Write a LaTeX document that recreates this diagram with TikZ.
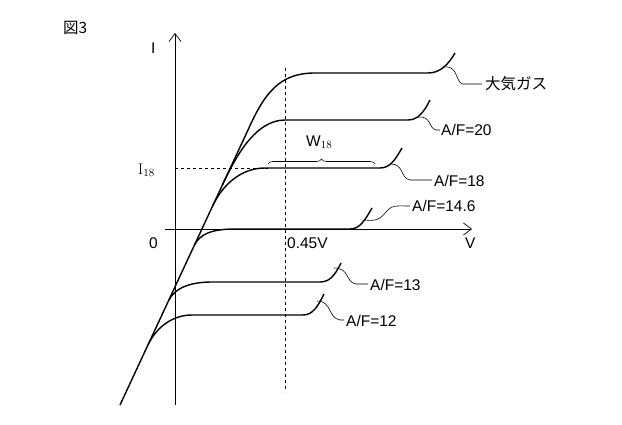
\documentclass[tikz,border=0pt]{standalone}
\usepackage{fontspec}
\setmainfont{Liberation Sans}
\newfontfamily\jp{Noto Sans CJK JP}
\usetikzlibrary{decorations.pathreplacing,arrows.meta}
\tikzstyle{curve} = [line width=1.4pt]
\tikzstyle{lead} = [line width=0.6pt]
\tikzstyle{guide} = [dashed, line width=0.6pt]
\tikzstyle{axis} = [line width=0.7pt, -{Straight Barb[length=8pt,width=12pt]}]
\tikzstyle{lbl} = [font=\fontsize{15.5}{17}\selectfont, anchor=west, inner sep=1pt]
\begin{document}
\begin{tikzpicture}[x=1pt, y=-1pt]
\useasboundingbox (0,0) rectangle (622,425);
% axes
\draw[axis] (175,405) -- (175,33);
\draw[axis] (165,229) -- (472,229);
\draw[guide] (285,68) -- (285,392);
\draw[guide] (175,168) -- (268,168);
% characteristic curves
\draw[curve] (120,405) -- (248,130) .. controls (265,92) and (280,73) .. (315,73) -- (428,73) .. controls (440,73) and (448,65) .. (455,53);
\draw[curve] (222.4,185) .. controls (235,158) and (255,120) .. (285,120) -- (408,120) .. controls (418,120) and (424,112) .. (430,100);
\draw[curve] (212.6,206) .. controls (222,186) and (240,168) .. (265,168) -- (380,168) .. controls (390,168) and (395,160) .. (402,148);
\draw[curve] (194.5,245) .. controls (200,234) and (212,229) .. (235,229) -- (350,229) .. controls (360,229) and (365,220) .. (372,208);
\draw[curve] (168.9,300) .. controls (175,288) and (190,282) .. (212,282) -- (320,282) .. controls (330,282) and (335,275) .. (341,263);
\draw[curve] (148,345) .. controls (155,330) and (170,315) .. (192,315) -- (303,315) .. controls (313,315) and (318,306) .. (324,294);
% leaders
\draw[lead] (443,67) .. controls (458,65) and (455,80) .. (462,84) -- (482,84);
\draw[lead] (418,117) .. controls (432,116) and (428,128) .. (436,130) -- (440,130);
\draw[lead] (391,164) .. controls (404,164) and (400,178) .. (410,180) -- (432,180);
\draw[lead] (365,220) .. controls (380,222) and (382,216) .. (388,210) .. controls (392,205) and (398,206) .. (410,206);
\draw[lead] (334,268) .. controls (350,268) and (345,282) .. (356,284) -- (368,284);
\draw[lead] (317,301) .. controls (332,301) and (328,318) .. (340,320) -- (344,320);
\draw[lead, decorate, decoration={brace, amplitude=5pt}] (268,164) -- (375,164);
% labels
\node[lbl] (fig) at (62,28) {\jp 図3};
\node[lbl] (ilab) at (150,48) {I};
\node[lbl] (air) at (484,84) {\jp 大気ガス};
\node[lbl] (af20) at (440,130) {A/F=20};
\node[lbl] (af18) at (433,181) {A/F=18};
\node[lbl] (af146) at (411,206) {A/F=14.6};
\node[lbl] (af13) at (369,285) {A/F=13};
\node[lbl] (af12) at (345,321) {A/F=12};
\node[lbl] (w18) at (305,142) {W$_{18}$};
\node[lbl] (i18) at (137,170) {\fontspec{Latin Modern Roman}I$_{18}$};
\node[lbl] (zero) at (148,243) {0};
\node[lbl] (v045) at (286,243) {0.45V};
\node[lbl] (vlab) at (464,243) {V};
\end{tikzpicture}
\end{document}
